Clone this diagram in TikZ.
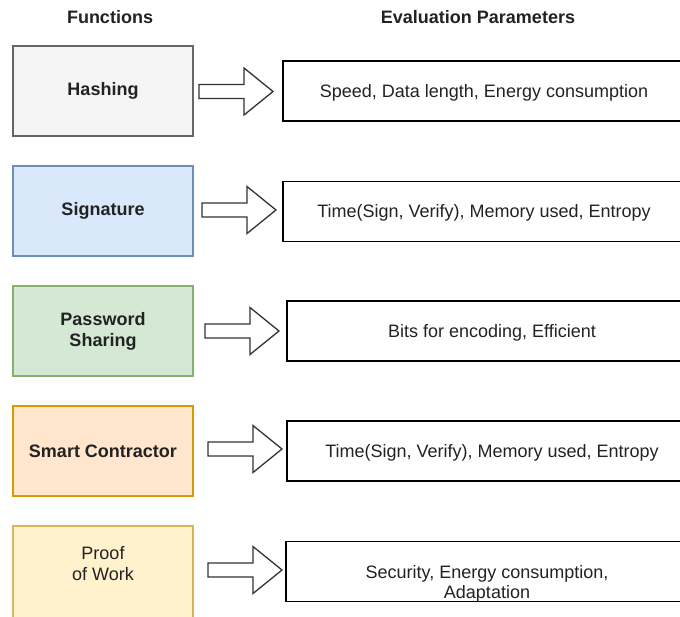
\documentclass[tikz,border=0pt]{standalone}
\usepackage{fontspec}
\setmainfont{Liberation Sans}
\definecolor{txt}{HTML}{222222}
\definecolor{grayF}{HTML}{F5F5F5}\definecolor{grayS}{HTML}{666666}
\definecolor{blueF}{HTML}{DAE8FC}\definecolor{blueS}{HTML}{6C8EBF}
\definecolor{greenF}{HTML}{D5E8D4}\definecolor{greenS}{HTML}{82B366}
\definecolor{orangeF}{HTML}{FFE6CC}\definecolor{orangeS}{HTML}{D79B00}
\definecolor{yellowF}{HTML}{FFF2CC}\definecolor{yellowS}{HTML}{D6B656}
\definecolor{arrowS}{HTML}{333333}
\newcommand{\blockarrow}[3]{%
  \draw[blockarr] (#2,#3-7) -- (#2+45,#3-7) -- (#2+45,#3-23.5) -- (#2+74,#3)
    -- (#2+45,#3+23.5) -- (#2+45,#3+7) -- (#2,#3+7) -- cycle;
  \coordinate (#1) at (#2+74,#3);}
\begin{document}
\begin{tikzpicture}[x=1pt,y=-1pt,
  every node/.style={text=txt, inner sep=0pt},
  fbox/.style={draw, line width=1.2pt, minimum width=180pt, minimum height=90pt,
    align=center, font=\bfseries\fontsize{18}{21}\selectfont},
  pbox/.style={draw=black, line width=1.2pt, minimum width=407pt, minimum height=60pt},
  ptext/.style={align=center, font=\fontsize{18}{20}\selectfont},
  head/.style={font=\bfseries\fontsize{18}{21}\selectfont},
  blockarr/.style={draw=arrowS, fill=white, line width=1.3pt, line join=miter}]
\useasboundingbox (0,0) rectangle (680,616);
\clip (0,0) rectangle (680,616);

\node[head] (hf) at (110,17) {Functions};
\node[head] (he) at (478,17) {Evaluation Parameters};

\node[fbox, fill=grayF, draw=grayS] (f1) at (103,91) {Hashing};
\node[fbox, fill=blueF, draw=blueS] (f2) at (103,211) {Signature};
\node[fbox, fill=greenF, draw=greenS] (f3) at (103,331) {Password\\Sharing};
\node[fbox, fill=orangeF, draw=orangeS] (f4) at (103,451) {Smart Contractor};
\node[fbox, fill=yellowF, draw=yellowS, minimum height=96pt] (f5) at (103,574) {};
\node[align=center, font=\fontsize{18}{21}\selectfont] (f5t) at (103,564) {Proof\\of Work};

\node[pbox] (p1) at (486.5,91) {};
\node[pbox] (p2) at (486.5,211.5) {};
\node[pbox] (p3) at (490.5,331) {};
\node[pbox] (p4) at (490.5,451) {};
\node[pbox] (p5) at (489.5,571.5) {};

\node[ptext] (t1) at (484,92.5) {Speed, Data length, Energy consumption};
\node[ptext] (t2) at (484,212.5) {Time(Sign, Verify), Memory used, Entropy};
\node[ptext] (t3) at (492,332.5) {Bits for encoding, Efficient};
\node[ptext] (t4) at (492,452.5) {Time(Sign, Verify), Memory used, Entropy};
\node[ptext] (t5) at (487,583.5) {Security, Energy consumption,\\Adaptation};

\blockarrow{a1}{199}{91.5}
\blockarrow{a2}{202}{210}
\blockarrow{a3}{205}{331}
\blockarrow{a4}{208}{449}
\blockarrow{a5}{208}{570}
\end{tikzpicture}
\end{document}
